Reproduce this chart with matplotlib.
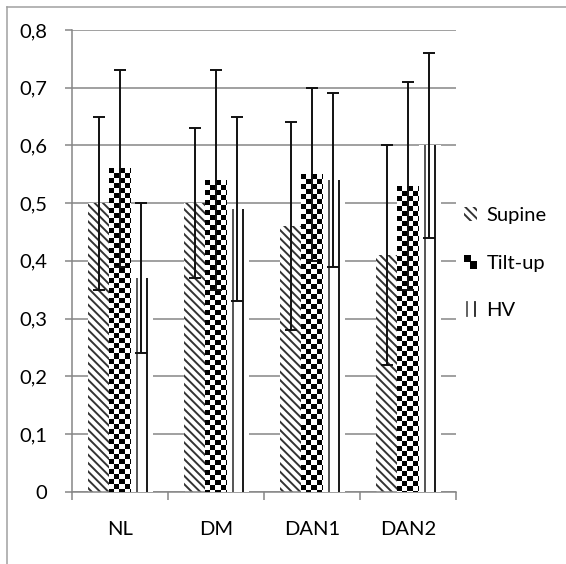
import numpy as np
import matplotlib
matplotlib.use("Agg")
import matplotlib.pyplot as plt
from matplotlib.patches import Rectangle
from matplotlib.legend_handler import HandlerBase
from matplotlib.lines import Line2D

# ---------------- data ----------------
categories = ["NL", "DM", "DAN1", "DAN2"]
series = ["Supine", "Tilt-up", "HV"]

supine = [0.50, 0.50, 0.46, 0.41]
tilt_up = [0.56, 0.54, 0.55, 0.53]
hv = [0.37, 0.49, 0.54, 0.60]

supine_err = [0.15, 0.13, 0.18, 0.19]
tilt_up_err = [0.17, 0.19, 0.15, 0.18]
hv_err = [0.13, 0.16, 0.15, 0.16]

y_ticks = [0, 0.1, 0.2, 0.3, 0.4, 0.5, 0.6, 0.7, 0.8]
y_tick_labels = ["0", "0,1", "0,2", "0,3", "0,4", "0,5", "0,6", "0,7", "0,8"]

# ---------------- style ----------------
plt.rcParams["font.family"] = ["Lato", "DejaVu Sans"]
plt.rcParams["hatch.linewidth"] = 1.4

AXIS_GREY = "#868686"
W = 0.22
PX_X = 1 / 96            # one pixel in x data units
PX_Y = 0.8 / 461.6       # one pixel in y data units

fig = plt.figure(figsize=(5.66, 5.64), dpi=100)
ax = fig.add_axes([72 / 566, 1 - 491.6 / 564, 384 / 566, 461.6 / 564])

# outer chart frame (top and left visible)
fig.add_artist(Line2D([7 / 566, 1], [1 - 7 / 564, 1 - 7 / 564],
                      transform=fig.transFigure, color="#a0a0a0", lw=1.1))
fig.add_artist(Line2D([7 / 566, 7 / 566], [0, 1 - 7 / 564],
                      transform=fig.transFigure, color="#a0a0a0", lw=1.1))

x = np.arange(len(categories))

b1 = ax.bar(x - W, supine, W, facecolor="white", edgecolor="#333333",
            linewidth=0, hatch="\\\\\\\\", zorder=2)
b2 = ax.bar(x, tilt_up, W, facecolor="white", edgecolor="white",
            linewidth=0, zorder=2)
b3 = ax.bar(x + W, hv, W, facecolor="white", edgecolor="white",
            linewidth=0, zorder=2)

# checkerboard fill for tilt-up bars
cell = 5
for rect in b2:
    x0 = rect.get_x()
    h = rect.get_height()
    ncol = int(np.ceil(rect.get_width() / (cell * PX_X))) + 1
    nrow = int(np.ceil(h / (cell * PX_Y))) + 1
    ii, jj = np.indices((nrow, ncol))
    board = ((ii + jj) % 2).astype(float)
    im = ax.imshow(board, cmap="gray", vmin=0, vmax=1,
                   extent=(x0, x0 + ncol * cell * PX_X, h - nrow * cell * PX_Y, h),
                   origin="upper", interpolation="nearest", aspect="auto",
                   zorder=3)
    im.set_clip_path(rect)

# double vertical stripes for HV bars
stripe = np.ones((1, 22))
stripe[0, 5:7] = 0.35
stripe[0, 14:16] = 0.12
for rect in b3:
    x0 = rect.get_x()
    h = rect.get_height()
    im = ax.imshow(stripe, cmap="gray", vmin=0, vmax=1,
                   extent=(x0, x0 + 22 * PX_X, 0, h),
                   interpolation="nearest", aspect="auto", zorder=3)
    im.set_clip_path(rect)

err_kw = dict(fmt="none", ecolor="#111111", elinewidth=1.4, capsize=4,
              capthick=1.4, zorder=5)
ax.errorbar(x - W, supine, yerr=supine_err, **err_kw)
ax.errorbar(x, tilt_up, yerr=tilt_up_err, **err_kw)
ax.errorbar(x + W, hv, yerr=hv_err, **err_kw)

ax.set_xlim(-0.5, len(categories) - 0.5)
ax.set_ylim(0, 0.8)

ax.set_yticks(y_ticks)
ax.set_yticklabels(y_tick_labels, fontsize=14.5)
ax.set_xticks(x)
ax.set_xticklabels(categories, fontsize=14.5)
ax.set_xticks(np.arange(-0.5, len(categories)), minor=True)

ax.tick_params(axis="y", direction="out", length=5, width=1.1,
               color=AXIS_GREY, pad=13)
ax.tick_params(axis="x", which="major", length=0, pad=21)
ax.tick_params(axis="x", which="minor", direction="out", length=6,
               width=1.1, color=AXIS_GREY)

ax.grid(axis="y", color=AXIS_GREY, linewidth=1.1)
ax.set_axisbelow(True)

for side in ["top", "right"]:
    ax.spines[side].set_visible(False)
for side in ["left", "bottom"]:
    ax.spines[side].set_color(AXIS_GREY)
    ax.spines[side].set_linewidth(1.1)


class CheckerHandler(HandlerBase):
    def create_artists(self, legend, orig, xd, yd, w, h, fontsize, trans):
        arts = [Rectangle((xd, yd), w, h, facecolor="black",
                          edgecolor="none", transform=trans)]
        arts.append(Rectangle((xd + w * 0.55, yd + h * 0.55), w * 0.45, h * 0.45,
                              facecolor="white", edgecolor="none", transform=trans))
        arts.append(Rectangle((xd, yd), w * 0.45, h * 0.45, facecolor="white",
                              edgecolor="none", transform=trans))
        return arts


class StripeHandler(HandlerBase):
    def create_artists(self, legend, orig, xd, yd, w, h, fontsize, trans):
        return [Line2D([xd + w * f, xd + w * f], [yd, yd + h], color=c,
                       lw=1.3, transform=trans)
                for f, c in [(0.2, "#555555"), (0.8, "#222222")]]


leg = ax.legend([b1[0], b2[0], b3[0]], series,
                handler_map={b2[0]: CheckerHandler(), b3[0]: StripeHandler()},
                loc="center left", bbox_to_anchor=(0.99, 0.495),
                frameon=False, fontsize=14.5, handlelength=0.65,
                handleheight=0.7, handletextpad=0.45, labelspacing=1.5,
                borderaxespad=0.2)

fig.savefig("out.png", dpi=100)
